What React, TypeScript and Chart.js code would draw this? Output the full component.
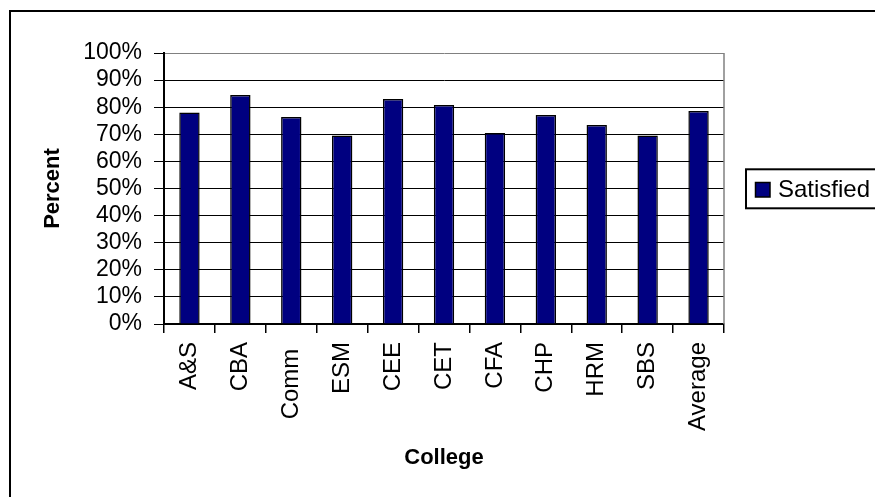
import React, { useEffect, useRef } from "react";
import { Chart, registerables } from "chart.js";

Chart.register(...registerables);

// Share of respondents satisfied, by college
const colleges = ["A&S", "CBA", "Comm ", "ESM", "CEE", "CET", "CFA", "CHP", "HRM", "SBS", "Average"];
const satisfied = [78, 84.5, 76.4, 69.6, 83, 80.8, 70.5, 77.1, 73.4, 69.6, 78.6];
const seriesLabel = "Satisfied";
const xTitle = "College";
const yTitle = "Percent";

const FONT = "'Liberation Sans', Arial, Helvetica, sans-serif";
const NAVY = "#000080";

// Outer frame, gray plot border on the right, and the boxed legend
const decorations = {
  id: "decorations",
  afterDraw(chart: any) {
    const { ctx, chartArea } = chart;
    ctx.save();
    // frame (left and top edges)
    ctx.fillStyle = "#000";
    ctx.fillRect(9, 10, 2, 497);
    ctx.fillRect(9, 10, 875, 2);

    // right edge of the plot area
    ctx.strokeStyle = "#808080";
    ctx.lineWidth = 1.5;
    ctx.beginPath();
    ctx.moveTo(chartArea.right, chartArea.top);
    ctx.lineTo(chartArea.right, chartArea.bottom);
    ctx.stroke();

    // legend box
    ctx.strokeStyle = "#000";
    ctx.lineWidth = 2;
    ctx.strokeRect(746, 169.3, 200, 39);
    const ds = chart.data.datasets[0];
    ctx.fillStyle = ds.backgroundColor;
    ctx.fillRect(755, 182, 15, 15);
    ctx.lineWidth = 1.5;
    ctx.strokeRect(755.5, 182.5, 14.5, 14.5);
    ctx.fillStyle = "#000";
    ctx.font = `24px ${FONT}`;
    ctx.textAlign = "left";
    ctx.textBaseline = "middle";
    ctx.fillText(ds.label, 778, 190);
    ctx.restore();
  },
};

export default function App() {
  const canvasRef = useRef<HTMLCanvasElement | null>(null);

  useEffect(() => {
    const canvas = canvasRef.current;
    if (!canvas) return;
    const chart = new Chart(canvas, {
      type: "bar",
      data: {
        labels: colleges,
        datasets: [
          {
            label: seriesLabel,
            data: satisfied,
            backgroundColor: NAVY,
            borderColor: "#000",
            borderWidth: 1.5,
            categoryPercentage: 1,
            barPercentage: 0.4,
          },
        ],
      },
      options: {
        animation: false,
        responsive: false,
        devicePixelRatio: 1,
        layout: { padding: { left: 0, top: 53, right: 151, bottom: 0 } },
        plugins: {
          legend: { display: false },
          tooltip: { enabled: false },
        },
        scales: {
          x: {
            offset: true,
            grid: {
              offset: true,
              drawOnChartArea: false,
              drawTicks: true,
              tickLength: 9,
              color: "#000",
              tickColor: "#000",
              lineWidth: 1.5,
            },
            border: { display: true, color: "#000", width: 2 },
            ticks: {
              color: "#000",
              font: { family: FONT, size: 24 },
              minRotation: 90,
              maxRotation: 90,
              autoSkip: false,
              padding: 9,
            },
            title: {
              display: true,
              text: xTitle,
              color: "#000",
              font: { family: FONT, size: 22, weight: "bold" },
              padding: 26,
            },
            afterFit: (scale: any) => {
              scale.height = 173;
            },
          },
          y: {
            min: 0,
            max: 100,
            grid: {
              color: (c: any) => (c.tick && c.tick.value === 100 ? "#808080" : "#000"),
              tickColor: "#000",
              tickLength: 10,
              lineWidth: 1,
            },
            border: { display: true, color: "#000", width: 2 },
            ticks: {
              stepSize: 10,
              autoSkip: false,
              color: "#000",
              font: { family: FONT, size: 23 },
              padding: 12,
              callback: (v: any) => `${v}%`,
            },
            title: {
              display: true,
              text: yTitle,
              color: "#000",
              font: { family: FONT, size: 22, weight: "bold" },
              padding: 40,
            },
            afterFit: (scale: any) => {
              scale.width = 164;
            },
          },
        },
      },
      plugins: [decorations],
    });
    return () => chart.destroy();
  }, []);

  return (
    <div style={{ position: "fixed", left: 0, top: 0, width: 875, height: 497, background: "#fff" }}>
      <canvas ref={canvasRef} width={875} height={497} />
    </div>
  );
}
